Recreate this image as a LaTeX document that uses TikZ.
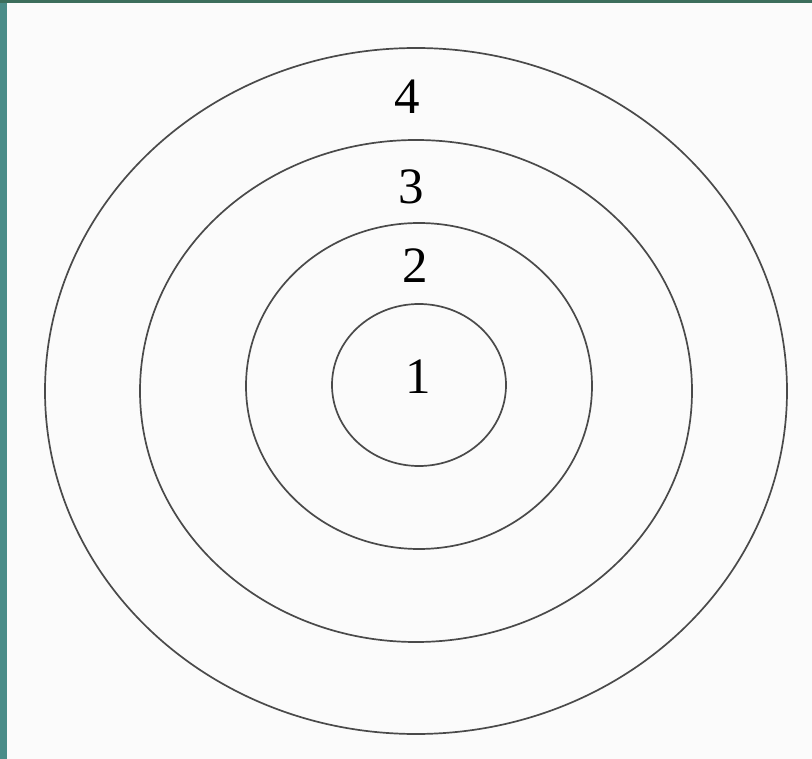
\documentclass[tikz,border=0pt]{standalone}
\usepackage{fontspec}
\setmainfont{Liberation Serif}
\definecolor{tealL}{HTML}{4A8C88}
\definecolor{tealT}{HTML}{3C6E5C}
\definecolor{paper}{HTML}{FBFBFB}
\definecolor{ringc}{HTML}{4A4A4A}
\begin{document}
\begin{tikzpicture}[x=1pt,y=-1pt,
  ring/.style={draw=ringc,line width=1.7pt},
  num/.style={font=\fontsize{51}{51}\selectfont,text=black,inner sep=0pt}]
\useasboundingbox (0,0) rectangle (812,759);
\fill[paper] (0,0) rectangle (812,759);
\fill[tealL] (0,0) rectangle (7,759);
\fill[tealT] (0,0) rectangle (812,3);
\draw[ring] (416,391) ellipse [x radius=371,y radius=343];
\draw[ring] (416,391) ellipse [x radius=276,y radius=251];
\draw[ring] (419,386) ellipse [x radius=173,y radius=163];
\draw[ring] (419,385) ellipse [x radius=87,y radius=81];
\node[num] (n4) at (407,97) {4};
\node[num] (n3) at (411,187) {3};
\node[num] (n2) at (415,266) {2};
\node[num] (n1) at (418,377) {1};
\end{tikzpicture}
\end{document}
